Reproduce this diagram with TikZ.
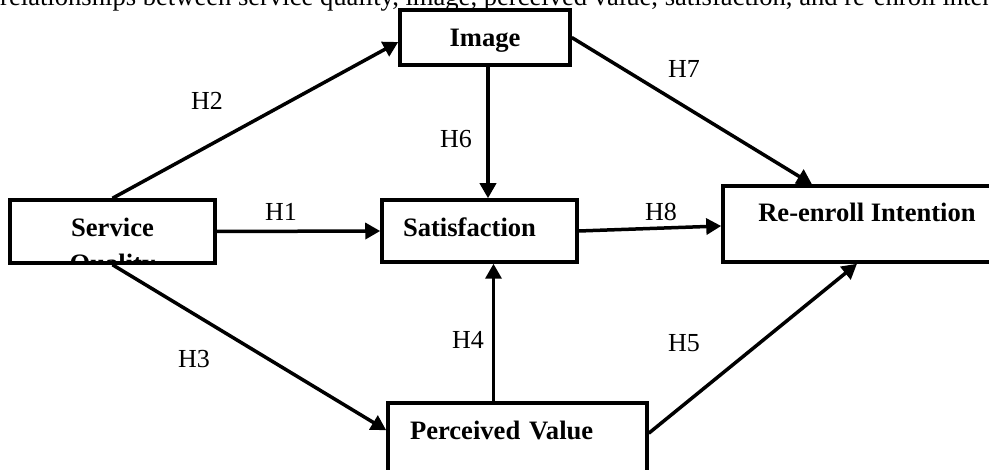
\documentclass[tikz,border=0pt]{standalone}
\usepackage{fontspec}
\setmainfont{Liberation Serif}
\usetikzlibrary{arrows.meta}

\begin{document}
\begin{tikzpicture}[x=1pt,y=1pt,yscale=-1,
  box/.style={draw,line width=3.5pt,rectangle,inner sep=0pt,font=\fontsize{26.6}{31}\selectfont\bfseries},
  hyp/.style={inner sep=0pt,font=\fontsize{26}{30}\selectfont},
  arr/.style={line width=3.5pt,-{Triangle[length=15pt,width=16pt]}}]
%set diagram size at 989 x 470
\useasboundingbox (0,0) rectangle (989,470);
\clip (0,0) rectangle (989,470);

% Text Node
\node [anchor=base west,inner sep=0pt,font=\fontsize{26.6}{31}\selectfont] (caption) at (0,6) {relationships between service quality, image, perceived value, satisfaction, and re-enroll intention};

%Boxes
\node [box,minimum width=170pt,minimum height=55pt,text height=19pt,text depth=0pt] (image) at (485,37.5) {Image};
\node [box,minimum width=195pt,minimum height=62pt,text width=153pt,inner xsep=21pt,align=left,text height=18pt,text depth=6pt] (satisfaction) at (479.5,231) {Satisfaction};
\node [box,minimum width=205pt,minimum height=63pt,text height=18pt,text depth=7pt] (service) at (112.5,231.5) {Service};
\node [box,minimum width=288pt,minimum height=76pt,text height=18pt,text depth=22pt] (reenroll) at (867,224) {Re-enroll Intention};
\node [box,text width=215pt,inner xsep=22pt,align=left,text height=37pt,text depth=60pt] (perceived) at (517.5,451.5) {Perceived Value};
%second line of the service box, cut by the box
\begin{scope}
\clip (service.south west) rectangle (service.north east);
\node [anchor=base,inner sep=0pt,font=\fontsize{26.6}{31}\selectfont\bfseries] (quality) at (112.5,273) {Quality};
\end{scope}

%Arrows
\draw [arr] (service.east) -- (satisfaction.west);
\draw [arr] (service.north) -- ([yshift=4.5pt]image.west);
\draw [arr] (service.south) -- ([yshift=29pt]perceived.north west);
\draw [arr] ([xshift=3pt]image.south) -- ([xshift=3pt]image.south |- satisfaction.north);
\draw [arr] ([xshift=-24pt]perceived.north) -- ([xshift=-24pt]perceived.north |- satisfaction.south);
\draw [arr] (satisfaction.east) -- ([yshift=2pt]reenroll.west);
\draw [arr] (image.east) -- ([xshift=-55pt]reenroll.north);
\draw [arr] ([yshift=32pt]perceived.north east) -- ([xshift=-10pt]reenroll.south);

% Text Node
\node [hyp] (h1) at (281,212) {H1};
\node [hyp] (h2) at (207,101) {H2};
\node [hyp] (h3) at (194,359) {H3};
\node [hyp] (h4) at (468,340) {H4};
\node [hyp] (h5) at (684,343) {H5};
\node [hyp] (h6) at (456,139) {H6};
\node [hyp] (h7) at (684,69) {H7};
\node [hyp] (h8) at (661,212) {H8};
\end{tikzpicture}
\end{document}
